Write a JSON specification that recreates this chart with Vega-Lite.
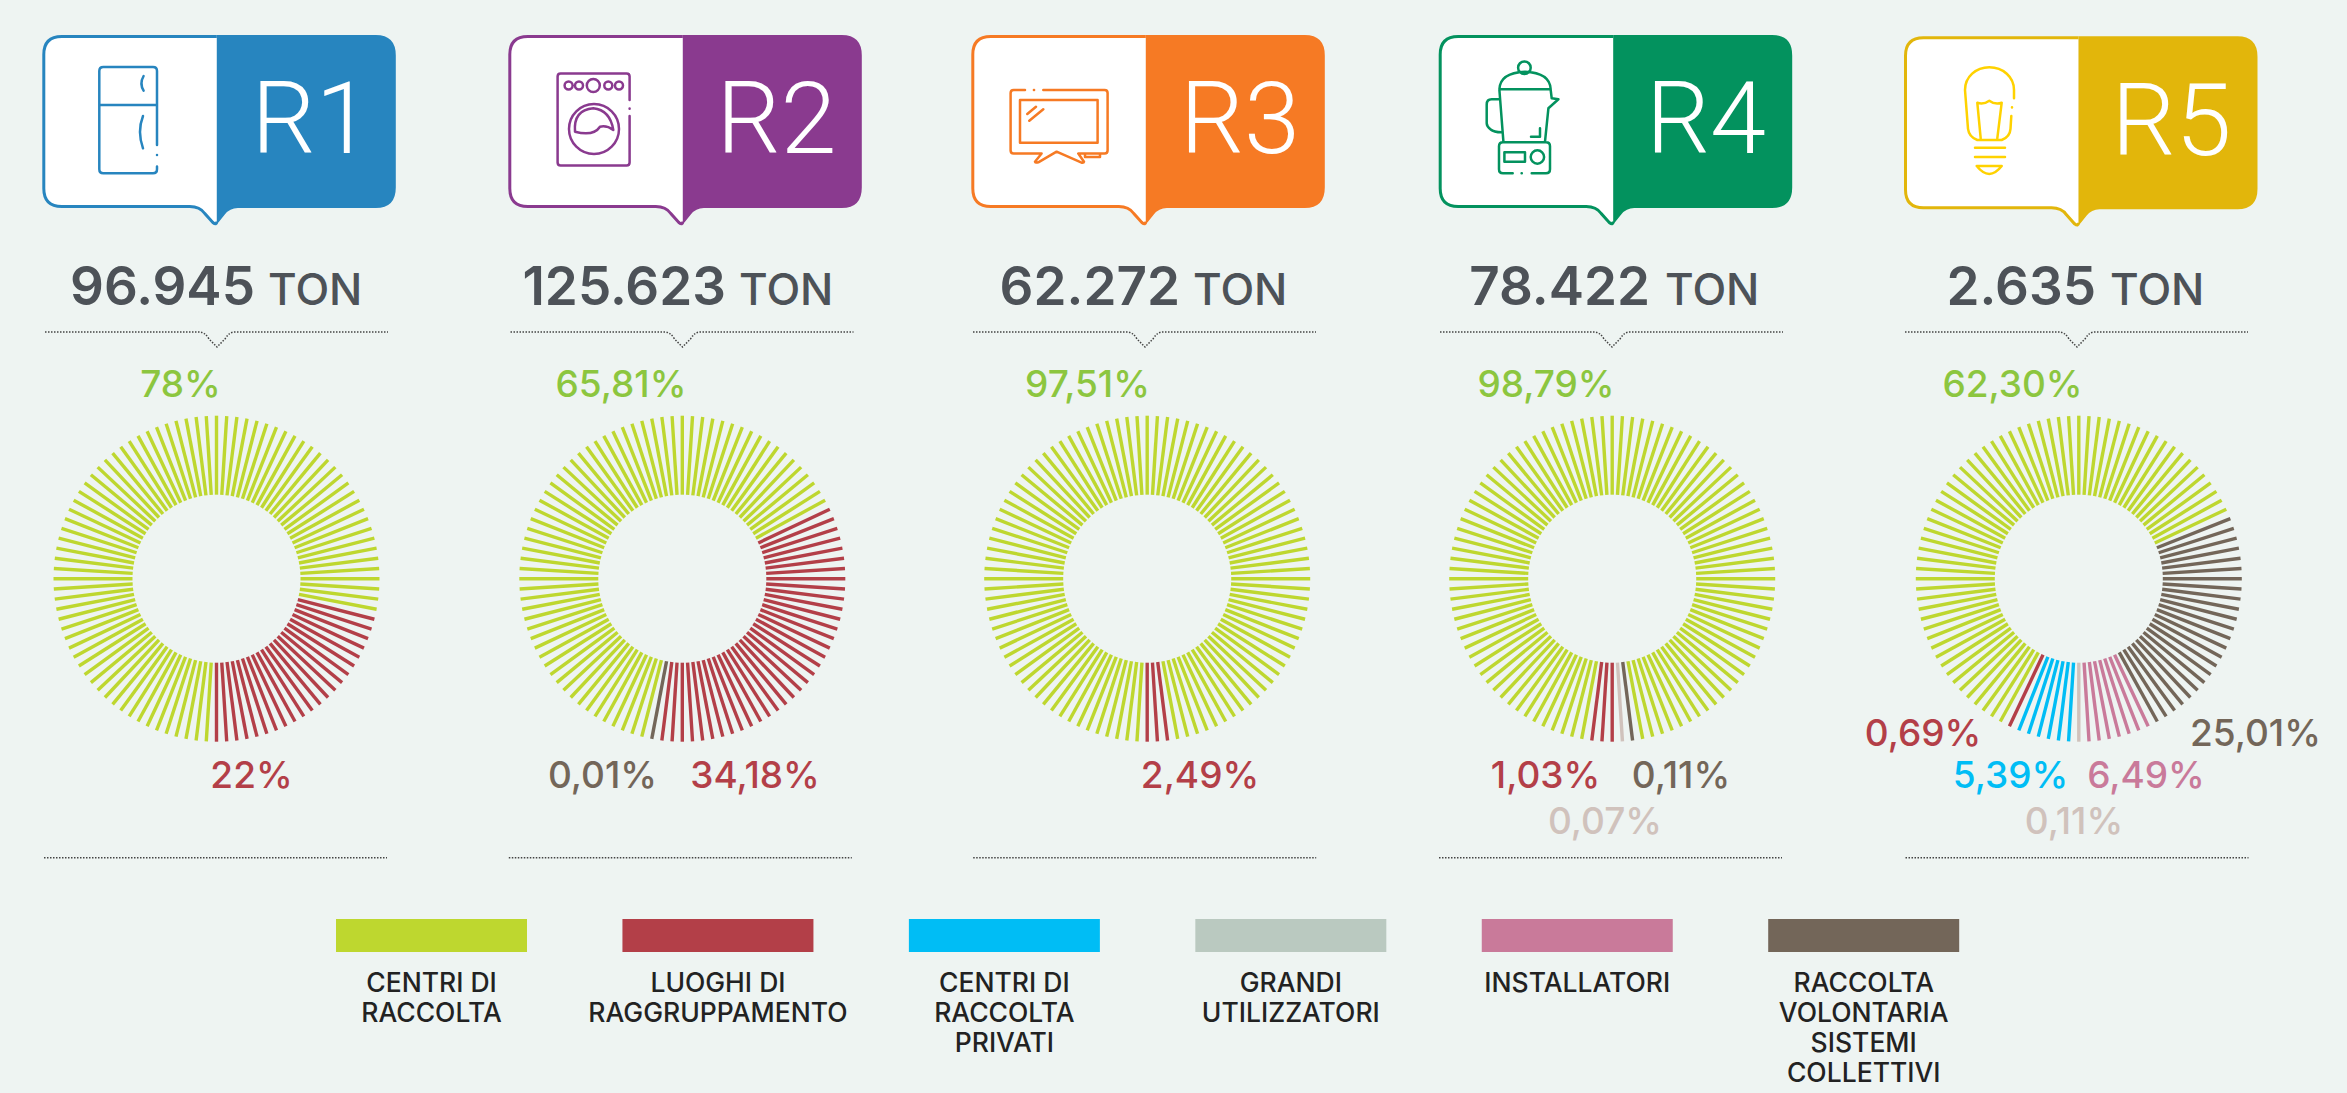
{"$schema":"https://vega.github.io/schema/vega-lite/v6.json","width":2347,"height":1093,"padding":0,"autosize":{"type":"none"},"background":"#EEF4F2","config":{"view":{"stroke":null},"axis":{"disable":true},"legend":{"disable":true},"font":"Inter"},
"datasets":{
"regions":[{"r":1,"name":"R1","ton":"96.945","unit":"TON"},{"r":2,"name":"R2","ton":"125.623","unit":"TON"},{"r":3,"name":"R3","ton":"62.272","unit":"TON"},{"r":4,"name":"R4","ton":"78.422","unit":"TON"},{"r":5,"name":"R5","ton":"2.635","unit":"TON"}],
"labels":[{"k":1,"r":1,"label":"78%","c":"C"},{"k":2,"r":2,"label":"65,81%","c":"C"},{"k":3,"r":3,"label":"97,51%","c":"C"},{"k":4,"r":4,"label":"98,79%","c":"C"},{"k":5,"r":5,"label":"62,30%","c":"C"},{"k":6,"r":1,"label":"22%","c":"L"},{"k":7,"r":2,"label":"0,01%","c":"V"},{"k":8,"r":2,"label":"34,18%","c":"L"},{"k":9,"r":3,"label":"2,49%","c":"L"},{"k":10,"r":4,"label":"1,03%","c":"L"},{"k":11,"r":4,"label":"0,11%","c":"V"},{"k":12,"r":4,"label":"0,07%","c":"G"},{"k":13,"r":5,"label":"0,69%","c":"L"},{"k":14,"r":5,"label":"25,01%","c":"V"},{"k":15,"r":5,"label":"5,39%","c":"P"},{"k":16,"r":5,"label":"6,49%","c":"I"},{"k":17,"r":5,"label":"0,11%","c":"G"}],
"legend":[{"n":1,"c":"C","text":"CENTRI DI\nRACCOLTA"},{"n":2,"c":"L","text":"LUOGHI DI\nRAGGRUPPAMENTO"},{"n":3,"c":"P","text":"CENTRI DI\nRACCOLTA\nPRIVATI"},{"n":4,"c":"G","text":"GRANDI\nUTILIZZATORI"},{"n":5,"c":"I","text":"INSTALLATORI"},{"n":6,"c":"V","text":"RACCOLTA\nVOLONTARIA\nSISTEMI\nCOLLETTIVI"}],
"spokes":[
{"r":1,"i":0,"c":"C"},{"r":1,"i":1,"c":"C"},{"r":1,"i":2,"c":"C"},{"r":1,"i":3,"c":"C"},{"r":1,"i":4,"c":"C"},{"r":1,"i":5,"c":"C"},{"r":1,"i":6,"c":"C"},{"r":1,"i":7,"c":"C"},{"r":1,"i":8,"c":"C"},{"r":1,"i":9,"c":"C"},{"r":1,"i":10,"c":"C"},{"r":1,"i":11,"c":"C"},{"r":1,"i":12,"c":"C"},{"r":1,"i":13,"c":"C"},{"r":1,"i":14,"c":"C"},{"r":1,"i":15,"c":"C"},{"r":1,"i":16,"c":"C"},{"r":1,"i":17,"c":"C"},{"r":1,"i":18,"c":"C"},{"r":1,"i":19,"c":"C"},{"r":1,"i":20,"c":"C"},{"r":1,"i":21,"c":"C"},{"r":1,"i":22,"c":"C"},{"r":1,"i":23,"c":"C"},{"r":1,"i":24,"c":"C"},{"r":1,"i":25,"c":"C"},{"r":1,"i":26,"c":"C"},{"r":1,"i":27,"c":"C"},{"r":1,"i":28,"c":"C"},{"r":1,"i":29,"c":"L"},{"r":1,"i":30,"c":"L"},{"r":1,"i":31,"c":"L"},{"r":1,"i":32,"c":"L"},{"r":1,"i":33,"c":"L"},{"r":1,"i":34,"c":"L"},{"r":1,"i":35,"c":"L"},{"r":1,"i":36,"c":"L"},{"r":1,"i":37,"c":"L"},{"r":1,"i":38,"c":"L"},{"r":1,"i":39,"c":"L"},{"r":1,"i":40,"c":"L"},{"r":1,"i":41,"c":"L"},{"r":1,"i":42,"c":"L"},{"r":1,"i":43,"c":"L"},{"r":1,"i":44,"c":"L"},{"r":1,"i":45,"c":"L"},{"r":1,"i":46,"c":"L"},{"r":1,"i":47,"c":"L"},{"r":1,"i":48,"c":"L"},{"r":1,"i":49,"c":"L"},{"r":1,"i":50,"c":"L"},{"r":1,"i":51,"c":"C"},{"r":1,"i":52,"c":"C"},{"r":1,"i":53,"c":"C"},{"r":1,"i":54,"c":"C"},{"r":1,"i":55,"c":"C"},{"r":1,"i":56,"c":"C"},{"r":1,"i":57,"c":"C"},{"r":1,"i":58,"c":"C"},{"r":1,"i":59,"c":"C"},{"r":1,"i":60,"c":"C"},{"r":1,"i":61,"c":"C"},{"r":1,"i":62,"c":"C"},{"r":1,"i":63,"c":"C"},{"r":1,"i":64,"c":"C"},{"r":1,"i":65,"c":"C"},{"r":1,"i":66,"c":"C"},{"r":1,"i":67,"c":"C"},{"r":1,"i":68,"c":"C"},{"r":1,"i":69,"c":"C"},{"r":1,"i":70,"c":"C"},{"r":1,"i":71,"c":"C"},{"r":1,"i":72,"c":"C"},{"r":1,"i":73,"c":"C"},{"r":1,"i":74,"c":"C"},{"r":1,"i":75,"c":"C"},{"r":1,"i":76,"c":"C"},{"r":1,"i":77,"c":"C"},{"r":1,"i":78,"c":"C"},{"r":1,"i":79,"c":"C"},{"r":1,"i":80,"c":"C"},{"r":1,"i":81,"c":"C"},{"r":1,"i":82,"c":"C"},{"r":1,"i":83,"c":"C"},{"r":1,"i":84,"c":"C"},{"r":1,"i":85,"c":"C"},{"r":1,"i":86,"c":"C"},{"r":1,"i":87,"c":"C"},{"r":1,"i":88,"c":"C"},{"r":1,"i":89,"c":"C"},{"r":1,"i":90,"c":"C"},{"r":1,"i":91,"c":"C"},{"r":1,"i":92,"c":"C"},{"r":1,"i":93,"c":"C"},{"r":1,"i":94,"c":"C"},{"r":1,"i":95,"c":"C"},{"r":1,"i":96,"c":"C"},{"r":1,"i":97,"c":"C"},{"r":1,"i":98,"c":"C"},{"r":1,"i":99,"c":"C"},
{"r":2,"i":0,"c":"C"},{"r":2,"i":1,"c":"C"},{"r":2,"i":2,"c":"C"},{"r":2,"i":3,"c":"C"},{"r":2,"i":4,"c":"C"},{"r":2,"i":5,"c":"C"},{"r":2,"i":6,"c":"C"},{"r":2,"i":7,"c":"C"},{"r":2,"i":8,"c":"C"},{"r":2,"i":9,"c":"C"},{"r":2,"i":10,"c":"C"},{"r":2,"i":11,"c":"C"},{"r":2,"i":12,"c":"C"},{"r":2,"i":13,"c":"C"},{"r":2,"i":14,"c":"C"},{"r":2,"i":15,"c":"C"},{"r":2,"i":16,"c":"C"},{"r":2,"i":17,"c":"C"},{"r":2,"i":18,"c":"L"},{"r":2,"i":19,"c":"L"},{"r":2,"i":20,"c":"L"},{"r":2,"i":21,"c":"L"},{"r":2,"i":22,"c":"L"},{"r":2,"i":23,"c":"L"},{"r":2,"i":24,"c":"L"},{"r":2,"i":25,"c":"L"},{"r":2,"i":26,"c":"L"},{"r":2,"i":27,"c":"L"},{"r":2,"i":28,"c":"L"},{"r":2,"i":29,"c":"L"},{"r":2,"i":30,"c":"L"},{"r":2,"i":31,"c":"L"},{"r":2,"i":32,"c":"L"},{"r":2,"i":33,"c":"L"},{"r":2,"i":34,"c":"L"},{"r":2,"i":35,"c":"L"},{"r":2,"i":36,"c":"L"},{"r":2,"i":37,"c":"L"},{"r":2,"i":38,"c":"L"},{"r":2,"i":39,"c":"L"},{"r":2,"i":40,"c":"L"},{"r":2,"i":41,"c":"L"},{"r":2,"i":42,"c":"L"},{"r":2,"i":43,"c":"L"},{"r":2,"i":44,"c":"L"},{"r":2,"i":45,"c":"L"},{"r":2,"i":46,"c":"L"},{"r":2,"i":47,"c":"L"},{"r":2,"i":48,"c":"L"},{"r":2,"i":49,"c":"L"},{"r":2,"i":50,"c":"L"},{"r":2,"i":51,"c":"L"},{"r":2,"i":52,"c":"L"},{"r":2,"i":53,"c":"V"},{"r":2,"i":54,"c":"C"},{"r":2,"i":55,"c":"C"},{"r":2,"i":56,"c":"C"},{"r":2,"i":57,"c":"C"},{"r":2,"i":58,"c":"C"},{"r":2,"i":59,"c":"C"},{"r":2,"i":60,"c":"C"},{"r":2,"i":61,"c":"C"},{"r":2,"i":62,"c":"C"},{"r":2,"i":63,"c":"C"},{"r":2,"i":64,"c":"C"},{"r":2,"i":65,"c":"C"},{"r":2,"i":66,"c":"C"},{"r":2,"i":67,"c":"C"},{"r":2,"i":68,"c":"C"},{"r":2,"i":69,"c":"C"},{"r":2,"i":70,"c":"C"},{"r":2,"i":71,"c":"C"},{"r":2,"i":72,"c":"C"},{"r":2,"i":73,"c":"C"},{"r":2,"i":74,"c":"C"},{"r":2,"i":75,"c":"C"},{"r":2,"i":76,"c":"C"},{"r":2,"i":77,"c":"C"},{"r":2,"i":78,"c":"C"},{"r":2,"i":79,"c":"C"},{"r":2,"i":80,"c":"C"},{"r":2,"i":81,"c":"C"},{"r":2,"i":82,"c":"C"},{"r":2,"i":83,"c":"C"},{"r":2,"i":84,"c":"C"},{"r":2,"i":85,"c":"C"},{"r":2,"i":86,"c":"C"},{"r":2,"i":87,"c":"C"},{"r":2,"i":88,"c":"C"},{"r":2,"i":89,"c":"C"},{"r":2,"i":90,"c":"C"},{"r":2,"i":91,"c":"C"},{"r":2,"i":92,"c":"C"},{"r":2,"i":93,"c":"C"},{"r":2,"i":94,"c":"C"},{"r":2,"i":95,"c":"C"},{"r":2,"i":96,"c":"C"},{"r":2,"i":97,"c":"C"},{"r":2,"i":98,"c":"C"},{"r":2,"i":99,"c":"C"},
{"r":3,"i":0,"c":"C"},{"r":3,"i":1,"c":"C"},{"r":3,"i":2,"c":"C"},{"r":3,"i":3,"c":"C"},{"r":3,"i":4,"c":"C"},{"r":3,"i":5,"c":"C"},{"r":3,"i":6,"c":"C"},{"r":3,"i":7,"c":"C"},{"r":3,"i":8,"c":"C"},{"r":3,"i":9,"c":"C"},{"r":3,"i":10,"c":"C"},{"r":3,"i":11,"c":"C"},{"r":3,"i":12,"c":"C"},{"r":3,"i":13,"c":"C"},{"r":3,"i":14,"c":"C"},{"r":3,"i":15,"c":"C"},{"r":3,"i":16,"c":"C"},{"r":3,"i":17,"c":"C"},{"r":3,"i":18,"c":"C"},{"r":3,"i":19,"c":"C"},{"r":3,"i":20,"c":"C"},{"r":3,"i":21,"c":"C"},{"r":3,"i":22,"c":"C"},{"r":3,"i":23,"c":"C"},{"r":3,"i":24,"c":"C"},{"r":3,"i":25,"c":"C"},{"r":3,"i":26,"c":"C"},{"r":3,"i":27,"c":"C"},{"r":3,"i":28,"c":"C"},{"r":3,"i":29,"c":"C"},{"r":3,"i":30,"c":"C"},{"r":3,"i":31,"c":"C"},{"r":3,"i":32,"c":"C"},{"r":3,"i":33,"c":"C"},{"r":3,"i":34,"c":"C"},{"r":3,"i":35,"c":"C"},{"r":3,"i":36,"c":"C"},{"r":3,"i":37,"c":"C"},{"r":3,"i":38,"c":"C"},{"r":3,"i":39,"c":"C"},{"r":3,"i":40,"c":"C"},{"r":3,"i":41,"c":"C"},{"r":3,"i":42,"c":"C"},{"r":3,"i":43,"c":"C"},{"r":3,"i":44,"c":"C"},{"r":3,"i":45,"c":"C"},{"r":3,"i":46,"c":"C"},{"r":3,"i":47,"c":"C"},{"r":3,"i":48,"c":"L"},{"r":3,"i":49,"c":"L"},{"r":3,"i":50,"c":"L"},{"r":3,"i":51,"c":"C"},{"r":3,"i":52,"c":"C"},{"r":3,"i":53,"c":"C"},{"r":3,"i":54,"c":"C"},{"r":3,"i":55,"c":"C"},{"r":3,"i":56,"c":"C"},{"r":3,"i":57,"c":"C"},{"r":3,"i":58,"c":"C"},{"r":3,"i":59,"c":"C"},{"r":3,"i":60,"c":"C"},{"r":3,"i":61,"c":"C"},{"r":3,"i":62,"c":"C"},{"r":3,"i":63,"c":"C"},{"r":3,"i":64,"c":"C"},{"r":3,"i":65,"c":"C"},{"r":3,"i":66,"c":"C"},{"r":3,"i":67,"c":"C"},{"r":3,"i":68,"c":"C"},{"r":3,"i":69,"c":"C"},{"r":3,"i":70,"c":"C"},{"r":3,"i":71,"c":"C"},{"r":3,"i":72,"c":"C"},{"r":3,"i":73,"c":"C"},{"r":3,"i":74,"c":"C"},{"r":3,"i":75,"c":"C"},{"r":3,"i":76,"c":"C"},{"r":3,"i":77,"c":"C"},{"r":3,"i":78,"c":"C"},{"r":3,"i":79,"c":"C"},{"r":3,"i":80,"c":"C"},{"r":3,"i":81,"c":"C"},{"r":3,"i":82,"c":"C"},{"r":3,"i":83,"c":"C"},{"r":3,"i":84,"c":"C"},{"r":3,"i":85,"c":"C"},{"r":3,"i":86,"c":"C"},{"r":3,"i":87,"c":"C"},{"r":3,"i":88,"c":"C"},{"r":3,"i":89,"c":"C"},{"r":3,"i":90,"c":"C"},{"r":3,"i":91,"c":"C"},{"r":3,"i":92,"c":"C"},{"r":3,"i":93,"c":"C"},{"r":3,"i":94,"c":"C"},{"r":3,"i":95,"c":"C"},{"r":3,"i":96,"c":"C"},{"r":3,"i":97,"c":"C"},{"r":3,"i":98,"c":"C"},{"r":3,"i":99,"c":"C"},
{"r":4,"i":0,"c":"C"},{"r":4,"i":1,"c":"C"},{"r":4,"i":2,"c":"C"},{"r":4,"i":3,"c":"C"},{"r":4,"i":4,"c":"C"},{"r":4,"i":5,"c":"C"},{"r":4,"i":6,"c":"C"},{"r":4,"i":7,"c":"C"},{"r":4,"i":8,"c":"C"},{"r":4,"i":9,"c":"C"},{"r":4,"i":10,"c":"C"},{"r":4,"i":11,"c":"C"},{"r":4,"i":12,"c":"C"},{"r":4,"i":13,"c":"C"},{"r":4,"i":14,"c":"C"},{"r":4,"i":15,"c":"C"},{"r":4,"i":16,"c":"C"},{"r":4,"i":17,"c":"C"},{"r":4,"i":18,"c":"C"},{"r":4,"i":19,"c":"C"},{"r":4,"i":20,"c":"C"},{"r":4,"i":21,"c":"C"},{"r":4,"i":22,"c":"C"},{"r":4,"i":23,"c":"C"},{"r":4,"i":24,"c":"C"},{"r":4,"i":25,"c":"C"},{"r":4,"i":26,"c":"C"},{"r":4,"i":27,"c":"C"},{"r":4,"i":28,"c":"C"},{"r":4,"i":29,"c":"C"},{"r":4,"i":30,"c":"C"},{"r":4,"i":31,"c":"C"},{"r":4,"i":32,"c":"C"},{"r":4,"i":33,"c":"C"},{"r":4,"i":34,"c":"C"},{"r":4,"i":35,"c":"C"},{"r":4,"i":36,"c":"C"},{"r":4,"i":37,"c":"C"},{"r":4,"i":38,"c":"C"},{"r":4,"i":39,"c":"C"},{"r":4,"i":40,"c":"C"},{"r":4,"i":41,"c":"C"},{"r":4,"i":42,"c":"C"},{"r":4,"i":43,"c":"C"},{"r":4,"i":44,"c":"C"},{"r":4,"i":45,"c":"C"},{"r":4,"i":46,"c":"C"},{"r":4,"i":47,"c":"C"},{"r":4,"i":48,"c":"V"},{"r":4,"i":49,"c":"G"},{"r":4,"i":50,"c":"L"},{"r":4,"i":51,"c":"L"},{"r":4,"i":52,"c":"L"},{"r":4,"i":53,"c":"C"},{"r":4,"i":54,"c":"C"},{"r":4,"i":55,"c":"C"},{"r":4,"i":56,"c":"C"},{"r":4,"i":57,"c":"C"},{"r":4,"i":58,"c":"C"},{"r":4,"i":59,"c":"C"},{"r":4,"i":60,"c":"C"},{"r":4,"i":61,"c":"C"},{"r":4,"i":62,"c":"C"},{"r":4,"i":63,"c":"C"},{"r":4,"i":64,"c":"C"},{"r":4,"i":65,"c":"C"},{"r":4,"i":66,"c":"C"},{"r":4,"i":67,"c":"C"},{"r":4,"i":68,"c":"C"},{"r":4,"i":69,"c":"C"},{"r":4,"i":70,"c":"C"},{"r":4,"i":71,"c":"C"},{"r":4,"i":72,"c":"C"},{"r":4,"i":73,"c":"C"},{"r":4,"i":74,"c":"C"},{"r":4,"i":75,"c":"C"},{"r":4,"i":76,"c":"C"},{"r":4,"i":77,"c":"C"},{"r":4,"i":78,"c":"C"},{"r":4,"i":79,"c":"C"},{"r":4,"i":80,"c":"C"},{"r":4,"i":81,"c":"C"},{"r":4,"i":82,"c":"C"},{"r":4,"i":83,"c":"C"},{"r":4,"i":84,"c":"C"},{"r":4,"i":85,"c":"C"},{"r":4,"i":86,"c":"C"},{"r":4,"i":87,"c":"C"},{"r":4,"i":88,"c":"C"},{"r":4,"i":89,"c":"C"},{"r":4,"i":90,"c":"C"},{"r":4,"i":91,"c":"C"},{"r":4,"i":92,"c":"C"},{"r":4,"i":93,"c":"C"},{"r":4,"i":94,"c":"C"},{"r":4,"i":95,"c":"C"},{"r":4,"i":96,"c":"C"},{"r":4,"i":97,"c":"C"},{"r":4,"i":98,"c":"C"},{"r":4,"i":99,"c":"C"},
{"r":5,"i":0,"c":"C"},{"r":5,"i":1,"c":"C"},{"r":5,"i":2,"c":"C"},{"r":5,"i":3,"c":"C"},{"r":5,"i":4,"c":"C"},{"r":5,"i":5,"c":"C"},{"r":5,"i":6,"c":"C"},{"r":5,"i":7,"c":"C"},{"r":5,"i":8,"c":"C"},{"r":5,"i":9,"c":"C"},{"r":5,"i":10,"c":"C"},{"r":5,"i":11,"c":"C"},{"r":5,"i":12,"c":"C"},{"r":5,"i":13,"c":"C"},{"r":5,"i":14,"c":"C"},{"r":5,"i":15,"c":"C"},{"r":5,"i":16,"c":"C"},{"r":5,"i":17,"c":"C"},{"r":5,"i":18,"c":"C"},{"r":5,"i":19,"c":"V"},{"r":5,"i":20,"c":"V"},{"r":5,"i":21,"c":"V"},{"r":5,"i":22,"c":"V"},{"r":5,"i":23,"c":"V"},{"r":5,"i":24,"c":"V"},{"r":5,"i":25,"c":"V"},{"r":5,"i":26,"c":"V"},{"r":5,"i":27,"c":"V"},{"r":5,"i":28,"c":"V"},{"r":5,"i":29,"c":"V"},{"r":5,"i":30,"c":"V"},{"r":5,"i":31,"c":"V"},{"r":5,"i":32,"c":"V"},{"r":5,"i":33,"c":"V"},{"r":5,"i":34,"c":"V"},{"r":5,"i":35,"c":"V"},{"r":5,"i":36,"c":"V"},{"r":5,"i":37,"c":"V"},{"r":5,"i":38,"c":"V"},{"r":5,"i":39,"c":"V"},{"r":5,"i":40,"c":"V"},{"r":5,"i":41,"c":"V"},{"r":5,"i":42,"c":"V"},{"r":5,"i":43,"c":"I"},{"r":5,"i":44,"c":"I"},{"r":5,"i":45,"c":"I"},{"r":5,"i":46,"c":"I"},{"r":5,"i":47,"c":"I"},{"r":5,"i":48,"c":"I"},{"r":5,"i":49,"c":"I"},{"r":5,"i":50,"c":"G"},{"r":5,"i":51,"c":"P"},{"r":5,"i":52,"c":"P"},{"r":5,"i":53,"c":"P"},{"r":5,"i":54,"c":"P"},{"r":5,"i":55,"c":"P"},{"r":5,"i":56,"c":"P"},{"r":5,"i":57,"c":"L"},{"r":5,"i":58,"c":"C"},{"r":5,"i":59,"c":"C"},{"r":5,"i":60,"c":"C"},{"r":5,"i":61,"c":"C"},{"r":5,"i":62,"c":"C"},{"r":5,"i":63,"c":"C"},{"r":5,"i":64,"c":"C"},{"r":5,"i":65,"c":"C"},{"r":5,"i":66,"c":"C"},{"r":5,"i":67,"c":"C"},{"r":5,"i":68,"c":"C"},{"r":5,"i":69,"c":"C"},{"r":5,"i":70,"c":"C"},{"r":5,"i":71,"c":"C"},{"r":5,"i":72,"c":"C"},{"r":5,"i":73,"c":"C"},{"r":5,"i":74,"c":"C"},{"r":5,"i":75,"c":"C"},{"r":5,"i":76,"c":"C"},{"r":5,"i":77,"c":"C"},{"r":5,"i":78,"c":"C"},{"r":5,"i":79,"c":"C"},{"r":5,"i":80,"c":"C"},{"r":5,"i":81,"c":"C"},{"r":5,"i":82,"c":"C"},{"r":5,"i":83,"c":"C"},{"r":5,"i":84,"c":"C"},{"r":5,"i":85,"c":"C"},{"r":5,"i":86,"c":"C"},{"r":5,"i":87,"c":"C"},{"r":5,"i":88,"c":"C"},{"r":5,"i":89,"c":"C"},{"r":5,"i":90,"c":"C"},{"r":5,"i":91,"c":"C"},{"r":5,"i":92,"c":"C"},{"r":5,"i":93,"c":"C"},{"r":5,"i":94,"c":"C"},{"r":5,"i":95,"c":"C"},{"r":5,"i":96,"c":"C"},{"r":5,"i":97,"c":"C"},{"r":5,"i":98,"c":"C"},{"r":5,"i":99,"c":"C"}
]},
"resolve":{"scale":{"x":"independent","y":"independent","color":"independent","shape":"independent","angle":"independent"}},
"layer":[
{"data":{"name":"regions"},"mark":{"type":"point","filled":false,"fill":"#FFFFFF","opacity":1,"size":4,"strokeWidth":3,"shape":"M0,-85L-155,-85Q-173,-85 -173,-67L-173,67Q-173,85 -155,85L-27,85Q-17,85 -12,92L-4,101Q0,104 0,100"},"encoding":{"x":{"field":"r","type":"quantitative","scale":{"domain":[1,2,3,4,5],"range":[216.8,682.8,1145.8,1613.2,2078.5],"zero":false,"nice":false}},"y":{"field":"r","type":"quantitative","scale":{"domain":[1,2,3,4,5],"range":[121.5,121.5,121.5,121.5,122.8],"zero":false,"nice":false}},"color":{"field":"r","type":"nominal","scale":{"domain":[1,2,3,4,5],"range":["#2785BF","#8A3A8F","#F67A24","#03925E","#E2B60B"]}}}},
{"data":{"name":"regions"},"mark":{"type":"point","filled":true,"opacity":1,"size":4,"strokeWidth":0,"shape":"M0,-86.5L159,-86.5Q179,-86.5 179,-66L179,66Q179,86.5 159,86.5L21,86.5Q13,86.5 8,93L2,100.5Q0,103 0,100Z"},"encoding":{"x":{"field":"r","type":"quantitative","scale":{"domain":[1,2,3,4,5],"range":[216.8,682.8,1145.8,1613.2,2078.5],"zero":false,"nice":false}},"y":{"field":"r","type":"quantitative","scale":{"domain":[1,2,3,4,5],"range":[121.5,121.5,121.5,121.5,122.8],"zero":false,"nice":false}},"color":{"field":"r","type":"nominal","scale":{"domain":[1,2,3,4,5],"range":["#2785BF","#8A3A8F","#F67A24","#03925E","#E2B60B"]}}}},
{"data":{"name":"regions"},"mark":{"type":"point","filled":false,"opacity":1,"size":4,"strokeWidth":2.5,"strokeCap":"round","strokeJoin":"round"},"encoding":{"x":{"field":"r","type":"quantitative","scale":{"domain":[1,2,3,4,5],"range":[216.3,682.3,1145.3,1612.7,2078],"zero":false,"nice":false}},"y":{"field":"r","type":"quantitative","scale":{"domain":[1,2,3,4,5],"range":[121.5,121.5,121.5,121.5,122.8],"zero":false,"nice":false}},"color":{"field":"r","type":"nominal","scale":{"domain":[1,2,3,4,5],"range":["#2785BF","#8A3A8F","#F67A24","#03925E","#FFD200"]}},"shape":{"field":"r","type":"nominal","scale":{"domain":[1,2,3,4,5],"range":[
"M-59.3,23.5L-59.3,-50.5Q-59.3,-54.5 -63.3,-54.5L-113,-54.5Q-117,-54.5 -117,-50.5L-117,47.8Q-117,51.8 -113,51.8L-63.3,51.8Q-59.3,51.8 -59.3,47.8L-59.3,45M-59.3,33.4L-59.3,33.6M-117,-16.5L-59.3,-16.5M-72.7,-45.5Q-77,-38 -72.7,-30.8M-73.3,-5.5Q-79.3,10 -73.3,26.8",
"M-52.7,-21.5L-52.7,-45Q-52.7,-48 -55.7,-48L-121.7,-48Q-124.7,-48 -124.7,-45L-124.7,41Q-124.7,44 -121.7,44L-55.7,44Q-52.7,44 -52.7,41L-52.7,-5.5M-52.7,-12.9L-52.7,-12.7M-117.7,-36A4,4 0 1,0 -109.7,-36A4,4 0 1,0 -117.7,-36M-107.3,-36A4,4 0 1,0 -99.3,-36A4,4 0 1,0 -107.3,-36M-95.5,-36A6.5,6.5 0 1,0 -82.5,-36A6.5,6.5 0 1,0 -95.5,-36M-78,-36A4,4 0 1,0 -70,-36A4,4 0 1,0 -78,-36M-67.3,-36A4,4 0 1,0 -59.3,-36A4,4 0 1,0 -67.3,-36M-113.3,7.5A25,25 0 1,0 -63.3,7.5A25,25 0 1,0 -113.3,7.5M-107.3,10.2Q-109,-11.5 -89,-13.2Q-72.3,-11.5 -69,8.5Q-75.7,3.5 -82.3,5.2Q-89,15.2 -107.3,10.2",
"M-120.3,-31.5L-131.7,-31.5Q-134.7,-31.5 -134.7,-28.5L-134.7,29Q-134.7,32 -131.7,32L-103.7,32L-110.3,40.2Q-110,41.5 -107,40.8L-88.7,30.2L-63.7,41.2Q-61.5,41.5 -61.3,40.2L-67,32L-40.7,32Q-37.7,32 -37.7,29L-37.7,-28.5Q-37.7,-31.5 -40.7,-31.5L-102,-31.5M-111.4,-31.5L-111.2,-31.5M-125.3,-21.5L-47.7,-21.5L-47.7,21.2L-125.3,21.2ZM-118,-7.5L-109.3,-14.8M-116,-0.8L-102,-12.2M-60.3,32L-60.3,35.5L-45.3,35.5L-45.3,32",
"M-113.3,-32.2Q-112.7,-48.8 -87.7,-49.8Q-62.7,-48.8 -62,-32.2ZM-94.6,-53.8A6.3,6.3 0 1,0 -82,-53.8A6.3,6.3 0 1,0 -94.6,-53.8M-113.3,-31.5L-109.3,20.2M-62,-31.5L-61,-23.2L-54.3,-22.2L-64.3,-13.2L-67.7,20.2M-114,-22.2L-121,-22.2Q-126,-22.2 -126,-17L-126,1.8Q-126,5 -122,8Q-119,10.8 -111,10.8M-72.7,6.8L-72.7,15.2L-81.7,15.2M-100,51.8L-109.7,51.8Q-113.7,51.8 -113.7,47.8L-113.7,24.8Q-113.7,20.8 -109.7,20.8L-66.7,20.8Q-62.7,20.8 -62.7,24.8L-62.7,47.8Q-62.7,51.8 -66.7,51.8L-81,51.8M-91.1,51.8L-90.9,51.8M-108.3,30.8L-87.7,30.8L-87.7,40.2L-108.3,40.2ZM-82,35.5A6.7,6.7 0 1,0 -68.6,35.5A6.7,6.7 0 1,0 -82,35.5",
"M-64,-24.5L-64,-32.8C-64,-46 -75,-55.5 -88.7,-55.5C-102,-55.5 -113,-46 -113,-32.8L-110,6Q-109,14 -100.7,17.2L-76.3,17.2Q-68,14 -67.5,6L-66.7,-6.8M-66,-15.6L-66,-15.4M-97.3,15.5L-100.7,-20.1Q-94.7,-17.8 -88.7,-22.1Q-83,-17.8 -76.3,-20.1L-80.7,15.5M-103,24.9L-73,24.9M-103,34.2L-73,34.2M-101.3,43.2L-76.3,43.2Q-88.7,59 -101.3,43.2"
]}}}},
{"data":{"name":"regions"},"mark":{"type":"text","font":"Roboto","fontWeight":300,"fontSize":101,"align":"center","baseline":"alphabetic","fill":"#FFFFFF"},"encoding":{"x":{"field":"r","type":"quantitative","scale":{"domain":[1,2,3,4,5],"range":[311.5,776.5,1240,1706,2171.5],"zero":false,"nice":false}},"y":{"field":"r","type":"quantitative","scale":{"domain":[1,2,3,4,5],"range":[153.3,153.3,153.3,153.3,155],"zero":false,"nice":false}},"text":{"field":"name"}}},
{"data":{"name":"regions"},"mark":{"type":"text","fontWeight":600,"fontSize":53,"align":"right","baseline":"alphabetic","fill":"#4D5258"},"encoding":{"x":{"field":"r","type":"quantitative","scale":{"domain":[1,2,3,4,5],"range":[255,726,1180,1650,2096],"zero":false,"nice":false}},"y":{"field":"r","type":"quantitative","scale":{"domain":[1,2,3,4,5],"range":[305,305,305,305,305],"zero":false,"nice":false}},"text":{"field":"ton"}}},
{"data":{"name":"regions"},"mark":{"type":"text","fontWeight":500,"fontSize":44,"align":"left","baseline":"alphabetic","fill":"#4D5258"},"encoding":{"x":{"field":"r","type":"quantitative","scale":{"domain":[1,2,3,4,5],"range":[268,739,1193,1665,2110],"zero":false,"nice":false}},"y":{"field":"r","type":"quantitative","scale":{"domain":[1,2,3,4,5],"range":[305,305,305,305,305],"zero":false,"nice":false}},"text":{"field":"unit"}}},
{"data":{"name":"regions"},"mark":{"type":"point","filled":false,"opacity":1,"size":4,"strokeWidth":1.5,"strokeDash":[1.5,1.5],"stroke":"#444444","shape":"M-172,0L-18,0Q-12,0 -8,7L0,15L8,7Q12,0 18,0L171,0"},"encoding":{"x":{"field":"r","type":"quantitative","scale":{"domain":[1,2,3,4,5],"range":[217,682.5,1145,1612,2077],"zero":false,"nice":false}},"y":{"field":"r","type":"quantitative","scale":{"domain":[1,2,3,4,5],"range":[332,332,332,332,332],"zero":false,"nice":false}}}},
{"data":{"name":"regions"},"mark":{"type":"point","filled":false,"opacity":1,"size":4,"strokeWidth":1.5,"strokeDash":[1.5,1.5],"stroke":"#444444","shape":"M-171.5,0L171.5,0"},"encoding":{"x":{"field":"r","type":"quantitative","scale":{"domain":[1,2,3,4,5],"range":[215.5,680.3,1144.7,1610.5,2077],"zero":false,"nice":false}},"y":{"field":"r","type":"quantitative","scale":{"domain":[1,2,3,4,5],"range":[857.7,857.7,857.7,857.7,857.7],"zero":false,"nice":false}}}},
{"data":{"name":"spokes"},"mark":{"type":"point","filled":false,"opacity":1,"size":4,"strokeWidth":3.4,"shape":"M0,-163L0,-84"},"encoding":{"x":{"field":"r","type":"quantitative","scale":{"domain":[1,2,3,4,5],"range":[216.5,682.3,1147.2,1612.2,2078.8],"zero":false,"nice":false}},"y":{"field":"r","type":"quantitative","scale":{"domain":[1,2,3,4,5],"range":[578.7,578.7,578.7,578.7,578.7],"zero":false,"nice":false}},"angle":{"field":"i","type":"quantitative","scale":{"domain":[0,100],"range":[0,360],"zero":false,"nice":false}},"color":{"field":"c","type":"nominal","scale":{"domain":["C","L","P","G","I","V"],"range":["#BED72F","#B33F48","#00BDF5","#D0C2BC","#C97A9A","#736659"]}}}},
{"data":{"name":"labels"},"mark":{"type":"text","fontWeight":500,"fontSize":37,"align":"center","baseline":"alphabetic"},"encoding":{"x":{"field":"k","type":"quantitative","scale":{"domain":[1,2,3,4,5,6,7,8,9,10,11,12,13,14,15,16,17],"range":[180.5,621,1087.5,1546,2012.5,251.5,602.5,755,1200,1545.5,1681,1605,1923,2255.5,2010.5,2146,2074],"zero":false,"nice":false}},"y":{"field":"k","type":"quantitative","scale":{"domain":[1,2,3,4,5,6,7,8,9,10,11,12,13,14,15,16,17],"range":[397,397,397,397,397,788,788,788,788,788,788,834,746,746,788,788,834],"zero":false,"nice":false}},"text":{"field":"label"},"color":{"field":"c","type":"nominal","scale":{"domain":["C","L","P","G","I","V"],"range":["#8CC63F","#B33F48","#00BDF5","#D0C2BC","#C97A9A","#736659"]}}}},
{"data":{"name":"legend"},"mark":{"type":"point","filled":true,"opacity":1,"size":4,"strokeWidth":0,"shape":"M-95.5,-16.5L95.5,-16.5L95.5,16.5L-95.5,16.5Z"},"encoding":{"x":{"field":"n","type":"quantitative","scale":{"domain":[1,6],"range":[431.5,1863.7],"zero":false,"nice":false}},"y":{"field":"n","type":"quantitative","scale":{"domain":[1,6],"range":[935.5,935.5],"zero":false,"nice":false}},"color":{"field":"c","type":"nominal","scale":{"domain":["C","L","P","G","I","V"],"range":["#BED72F","#B33F48","#00BDF5","#BAC9C0","#C97A9A","#736659"]}}}},
{"data":{"name":"legend"},"mark":{"type":"text","fontWeight":500,"fontSize":26.5,"align":"center","baseline":"alphabetic","lineBreak":"\n","lineHeight":30,"fill":"#222222"},"encoding":{"x":{"field":"n","type":"quantitative","scale":{"domain":[1,6],"range":[431.5,1863.7],"zero":false,"nice":false}},"y":{"field":"n","type":"quantitative","scale":{"domain":[1,6],"range":[992,992],"zero":false,"nice":false}},"text":{"field":"text"}}}
]}
